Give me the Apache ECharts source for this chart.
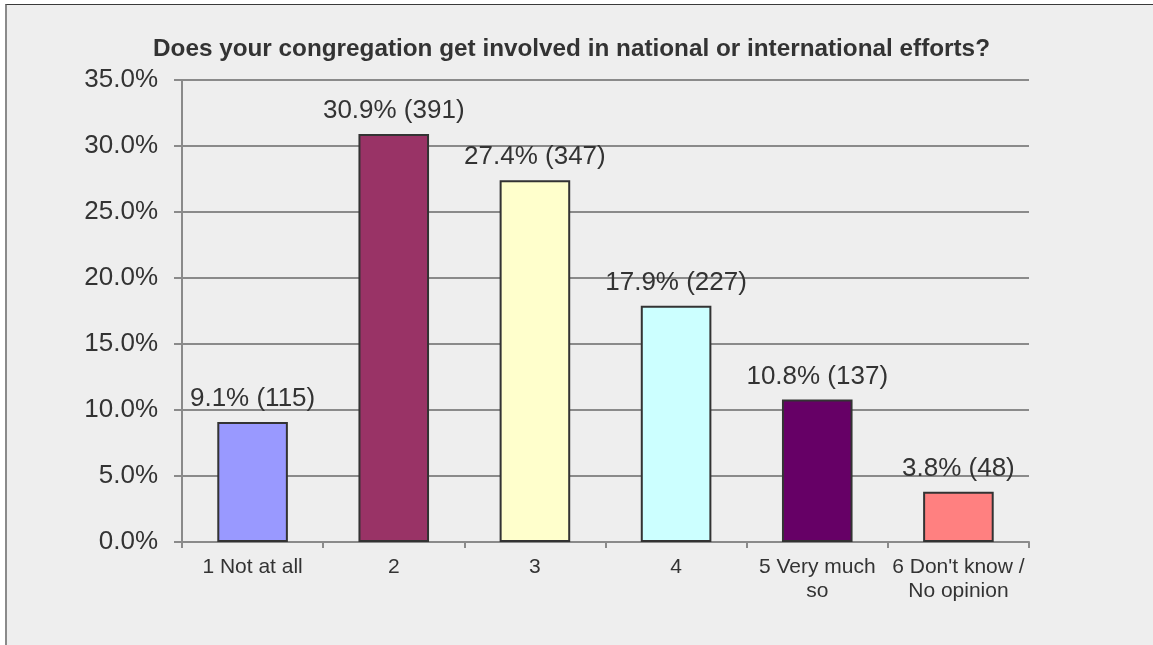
<!DOCTYPE html>
<html>
<head>
<meta charset="utf-8">
<title>Congregation involvement in national or international efforts</title>
<script src="https://cdn.jsdelivr.net/npm/echarts@6/dist/echarts.min.js"></script>
<style>
  html, body { margin: 0; padding: 0; background: #ffffff; }
  #frame {
    position: absolute; left: 5px; top: 4px; width: 1148px; height: 641px;
    background: #eeeeee; border-top: 1px solid #3a3a3a; border-left: 2px solid #8a8a8a;
    box-sizing: border-box;
  }
  #chart { position: absolute; left: 0; top: 0; width: 1153px; height: 645px; }
</style>
</head>
<body>
<div id="frame"></div>
<div id="chart"></div>
<script>
// Survey question and answer categories
const title = 'Does your congregation get involved in national or international efforts?';
const categories = ['1 Not at all', '2', '3', '4', '5 Very much\nso', '6 Don\'t know /\nNo opinion'];
// Share of respondents (%) and raw counts per answer
const percents = [9.1, 30.9, 27.4, 17.9, 10.8, 3.8];
const counts = [115, 391, 347, 227, 137, 48];
const barColors = ['#9999ff', '#993366', '#ffffcc', '#ccffff', '#660066', '#ff8080'];
// Value axis ticks (percent)
const yMin = 0, yMax = 35, yStep = 5;

const chart = echarts.init(document.getElementById('chart'), null, { renderer: 'canvas' });

const font = '"Liberation Sans", Arial, sans-serif';

chart.setOption({
  backgroundColor: 'transparent',
  animation: false,
  title: {
    text: title,
    left: 148,
    top: 32,
    textStyle: { fontFamily: font, fontSize: 24.3, fontWeight: 'bold', color: '#333333' }
  },
  grid: { left: 182, right: 124, top: 80, bottom: 103, containLabel: false },
  xAxis: {
    type: 'category',
    data: categories,
    axisLine: { lineStyle: { color: '#8a8a8a', width: 2 } },
    axisTick: { show: true, length: 6, lineStyle: { color: '#8a8a8a', width: 2 } },
    axisLabel: { fontFamily: font, fontSize: 21, color: '#333333', margin: 13, lineHeight: 24, interval: 0 }
  },
  yAxis: {
    type: 'value',
    min: yMin, max: yMax, interval: yStep,
    axisLine: { show: true, lineStyle: { color: '#8a8a8a', width: 2 } },
    axisTick: { show: true, length: 8, lineStyle: { color: '#8a8a8a', width: 2 } },
    splitLine: { show: true, lineStyle: { color: '#8a8a8a', width: 2 } },
    axisLabel: {
      fontFamily: font, fontSize: 26, color: '#333333', margin: 24,
      formatter: v => v.toFixed(1) + '%'
    }
  },
  series: [{
    type: 'bar',
    barWidth: '50%',
    data: percents.map((p, i) => ({
      value: p,
      itemStyle: { color: barColors[i], borderColor: '#333333', borderWidth: 2 }
    })),
    label: {
      show: true,
      position: 'top',
      distance: 10,
      fontFamily: font, fontSize: 26, color: '#333333',
      formatter: p => p.value.toFixed(1) + '% (' + counts[p.dataIndex] + ')'
    }
  }]
});
</script>
</body>
</html>
